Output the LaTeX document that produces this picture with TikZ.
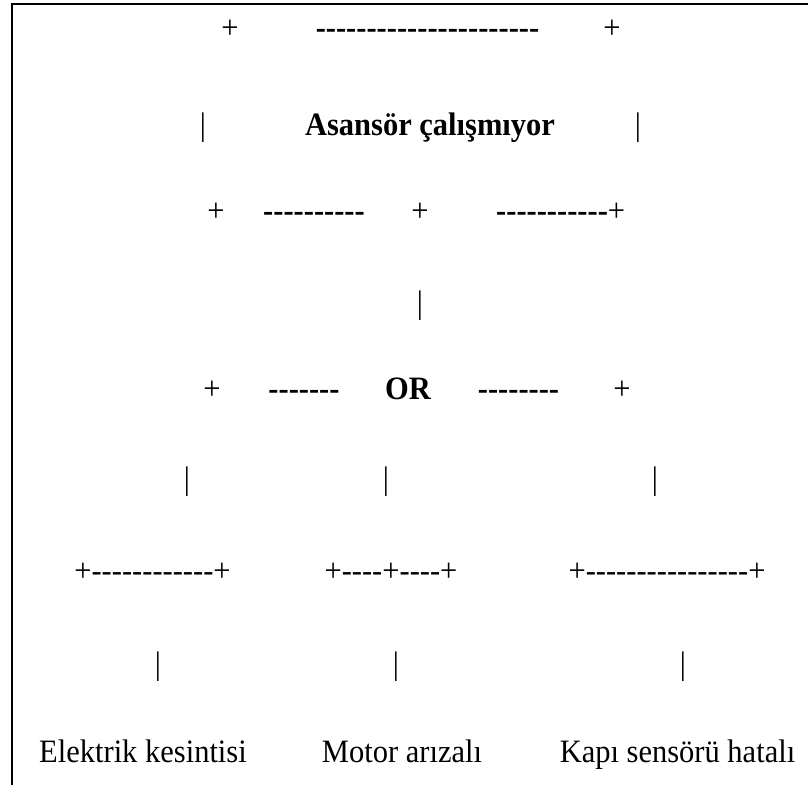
\documentclass[tikz,border=0pt]{standalone}
\usepackage{fontspec}
\setmainfont{Liberation Serif}
\ExplSyntaxOn
\cs_new:Npn \mydashes #1 { \prg_replicate:nn {#1} { -\kern0pt } }
\ExplSyntaxOff
\begin{document}
\begin{tikzpicture}[x=1pt,y=-1pt,
  txt/.style={inner sep=0pt, anchor=base, yscale=1.07, transform shape, font=\fontsize{30.5}{36}\selectfont},
  btxt/.style={txt, font=\fontsize{30.5}{36}\selectfont\bfseries},
  frame/.style={line width=2pt}]
\useasboundingbox (0,0) rectangle (811,785);
\coordinate (fb) at (11.5,785);
\coordinate (fc) at (11.5,3.5);
\coordinate (fe) at (808,3.5);
\draw[frame] (fb) -- (fc) -- (fe);
% row 1
\node[txt]  (r1a) at (230,38) {+};
\node[btxt] (r1b) at (427.5,38) {\mydashes{22}};
\node[txt]  (r1c) at (612,38) {+};
% row 2
\node[txt]  (r2a) at (203,135) {|};
\node[btxt] (top) at (430,135) {Asansör çalışmıyor};
\node[txt]  (r2c) at (638,135) {|};
% row 3
\node[txt]  (r3a) at (216,221) {+};
\node[btxt] (r3b) at (314,221) {\mydashes{10}};
\node[txt]  (r3c) at (420,221) {+};
\node[txt, anchor=base west] (r3d) at (496,221) {\textbf{\mydashes{11}}+};
% row 4
\node[txt]  (r4) at (420,313) {|};
% row 5
\node[txt]  (r5a) at (212,399) {+};
\node[btxt] (r5b) at (304,399) {\mydashes{7}};
\node[btxt] (or)  at (408,399) {OR};
\node[btxt] (r5d) at (518.5,399) {\mydashes{8}};
\node[txt]  (r5e) at (622,399) {+};
% row 6
\node[txt]  (r6a) at (187,489) {|};
\node[txt]  (r6b) at (386,489) {|};
\node[txt]  (r6c) at (655,489) {|};
% row 7
\node[txt]  (r7a) at (152.5,581) {+\mydashes{12}+};
\node[txt]  (r7b) at (391,581) {+\mydashes{4}+\mydashes{4}+};
\node[txt]  (r7c) at (667,581) {+\mydashes{16}+};
% row 8
\node[txt]  (r8a) at (158,674) {|};
\node[txt]  (r8b) at (396,674) {|};
\node[txt]  (r8c) at (683,674) {|};
% row 9
\node[txt]  (e1) at (143,762) {Elektrik kesintisi};
\node[txt]  (e2) at (402,762) {Motor arızalı};
\node[txt]  (e3) at (677.5,762) {Kapı sensörü hatalı};
\end{tikzpicture}
\end{document}
